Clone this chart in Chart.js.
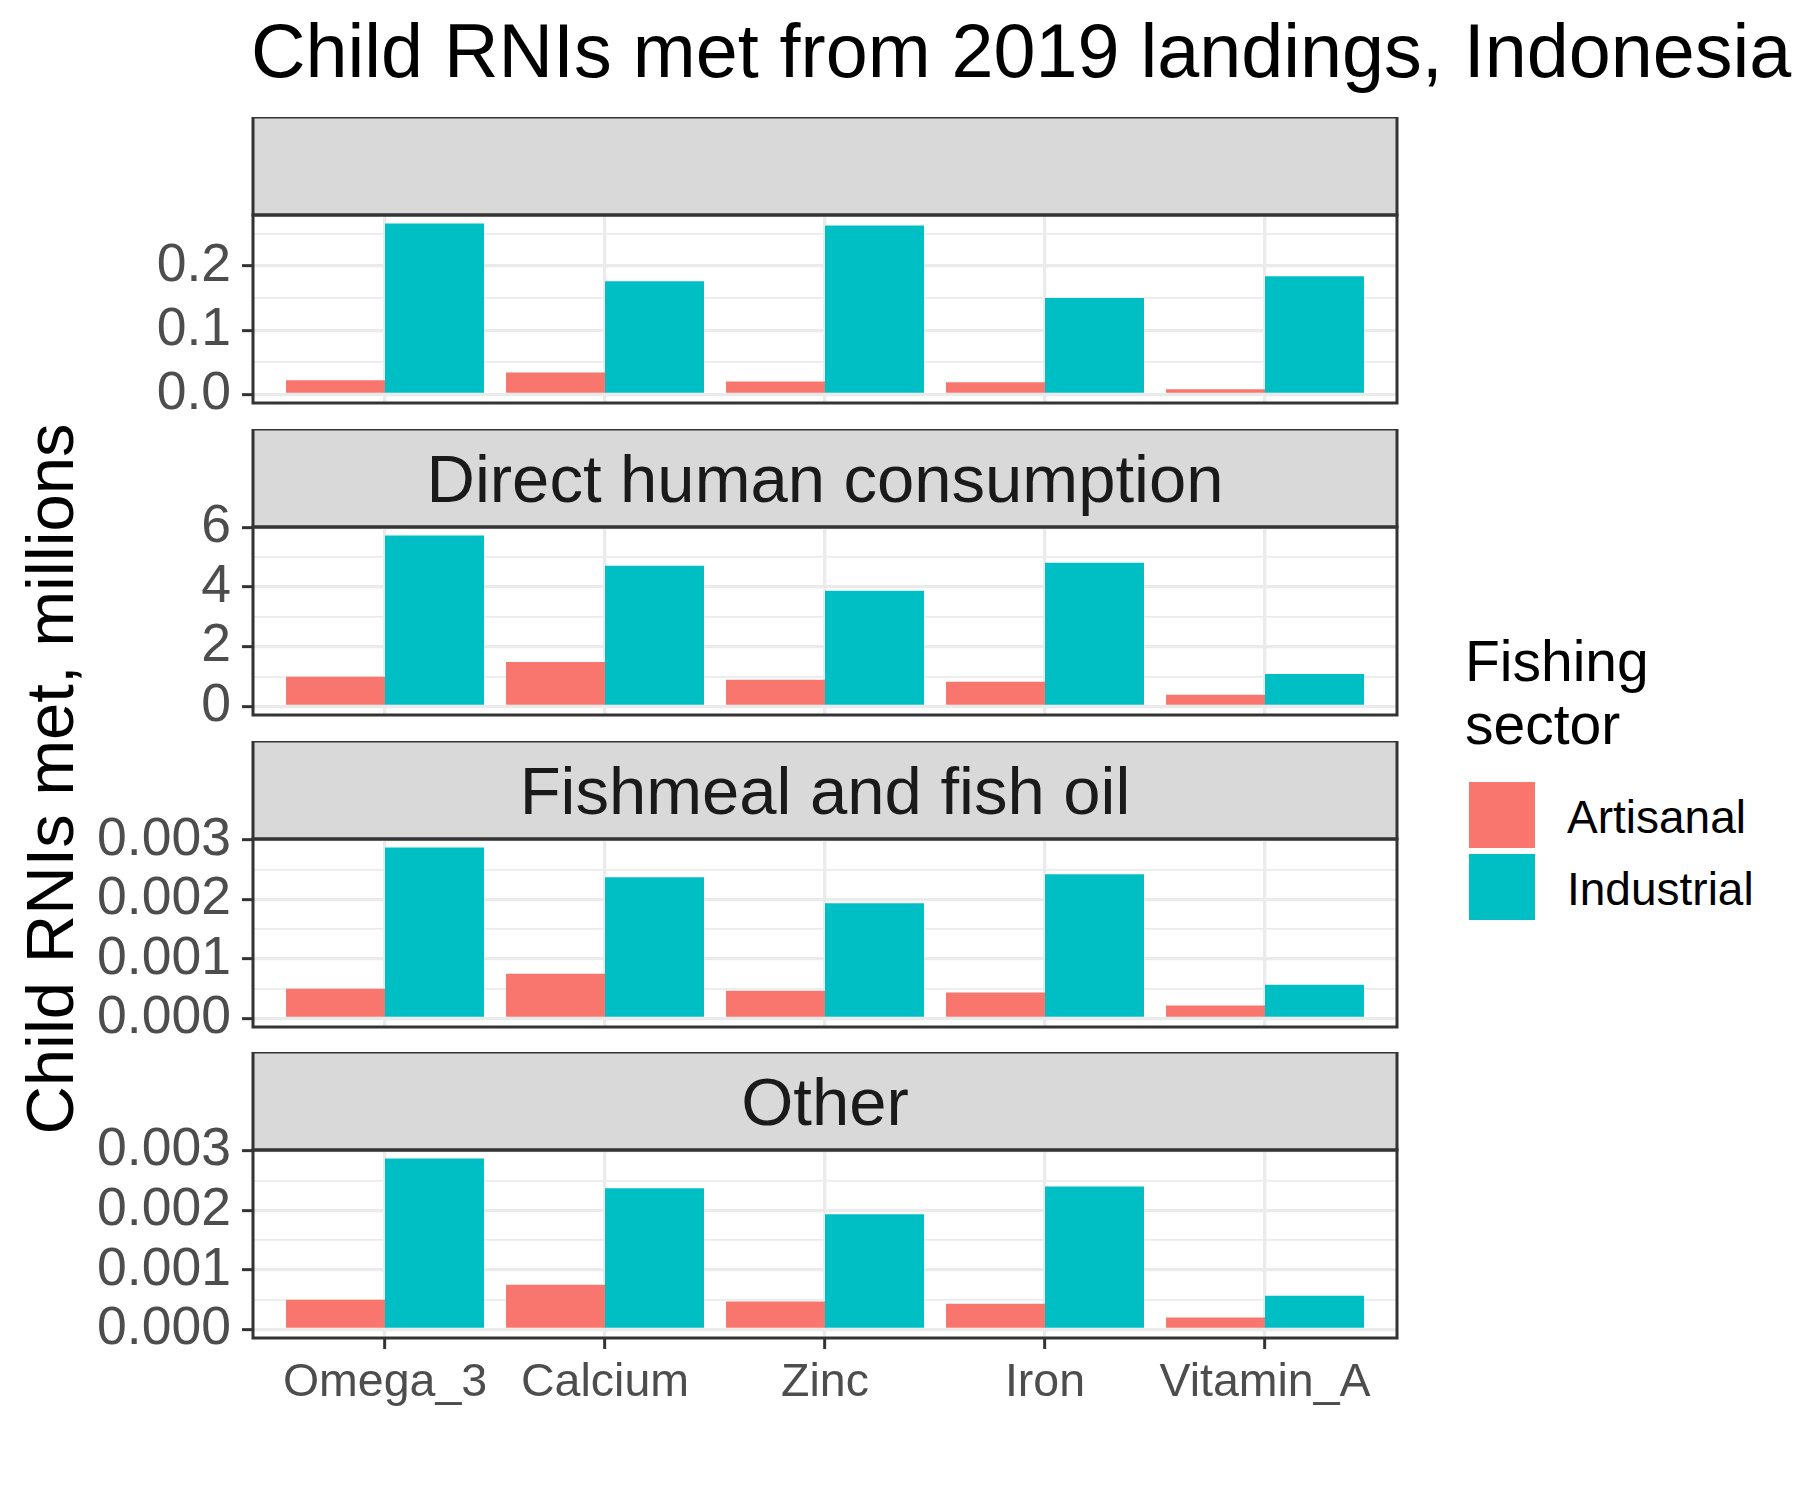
<!DOCTYPE html>
<html>
<head>
<meta charset="utf-8">
<script src="https://cdn.jsdelivr.net/npm/chart.js@4.4.1/dist/chart.umd.min.js"></script>
<style>
  html, body { margin: 0; padding: 0; background: #fff; }
  #page { position: relative; width: 1800px; height: 1500px; overflow: hidden;
          font-family: "Liberation Sans", Arial, sans-serif; }
  #page canvas { position: absolute; left: 0; }
  .txt { position: absolute; white-space: nowrap; line-height: 1; }
  #title { left: 251px; top: 14px; font-size: 75.5px; color: #000; }
  #ytitle { left: 49px; top: 779px; font-size: 67px; color: #000;
            transform: translate(-50%, -50%) rotate(-90deg); }
  #legendTitle { left: 1465px; top: 630px; font-size: 57px; line-height: 63.3px; color: #000; }
  .key { position: absolute; left: 1469px; width: 66px; height: 66px; }
  .keyLabel { left: 1567px; font-size: 46px; color: #000; }
</style>
</head>
<body>
<div id="page">
  <div class="txt" id="title">Child RNIs met from 2019 landings, Indonesia</div>
  <div class="txt" id="ytitle">Child RNIs met, millions</div>
  <div class="txt" id="legendTitle">Fishing<br>sector</div>
</div>
<script>
"use strict";

const nutrients = ["Omega_3", "Calcium", "Zinc", "Iron", "Vitamin_A"];
const sectors = ["Artisanal", "Industrial"];
const sectorColors = ["#F8766D", "#00BFC4"];
const facets = ["", "Direct human consumption", "Fishmeal and fish oil", "Other"];

// values per facet, same order as nutrients
const naArtisanal = [0.022, 0.034, 0.020, 0.019, 0.008];
const naIndustrial = [0.266, 0.176, 0.263, 0.150, 0.184];
const dhcArtisanal = [0.99, 1.49, 0.89, 0.83, 0.39];
const dhcIndustrial = [5.72, 4.71, 3.87, 4.81, 1.09];
const fishmealArtisanal = [0.000501, 0.000751, 0.000467, 0.000434, 0.000217];
const fishmealIndustrial = [0.002871, 0.002371, 0.001937, 0.002421, 0.000568];
const otherArtisanal = [0.0005, 0.00075, 0.000467, 0.000433, 0.0002];
const otherIndustrial = [0.002867, 0.002367, 0.001933, 0.0024, 0.000567];

// major y ticks and their labels per facet
const naTicks = [0, 0.1, 0.2];
const dhcTicks = [0, 2, 4, 6];
const fishmealTicks = [0, 0.001, 0.002, 0.003];
const otherTicks = [0, 0.001, 0.002, 0.003];
const naTickLabels = ["0.0", "0.1", "0.2"];
const dhcTickLabels = ["0", "2", "4", "6"];
const fishmealTickLabels = ["0.000", "0.001", "0.002", "0.003"];
const otherTickLabels = ["0.000", "0.001", "0.002", "0.003"];

const artisanal = [naArtisanal, dhcArtisanal, fishmealArtisanal, otherArtisanal];
const industrial = [naIndustrial, dhcIndustrial, fishmealIndustrial, otherIndustrial];
const yTicks = [naTicks, dhcTicks, fishmealTicks, otherTicks];
const yTickLabels = [naTickLabels, dhcTickLabels, fishmealTickLabels, otherTickLabels];

// layout
const FONT = '"Liberation Sans", Arial, sans-serif';
const CANVAS_W = 1420;
const PANEL_LEFT = 253;
const PANEL_RIGHT = 1397;
const STRIP_H = 98;
const PLOT_H = 188;
const panelTops = [117, 429, 741, 1052];

const page = document.getElementById("page");

// legend
sectors.forEach((s, k) => {
  const key = document.createElement("div");
  key.className = "key";
  key.style.top = 782 + k * 72 + "px";
  key.style.background = sectorColors[k];
  page.appendChild(key);
  const lab = document.createElement("div");
  lab.className = "txt keyLabel";
  lab.style.top = 794 + k * 72 + "px";
  lab.textContent = s;
  page.appendChild(lab);
});

const facetStrip = {
  id: "facetStrip",
  beforeDraw(chart) {
    const { ctx, chartArea: a } = chart;
    ctx.save();
    ctx.fillStyle = "#D9D9D9";
    ctx.fillRect(a.left, a.top - STRIP_H, a.right - a.left, STRIP_H);
    ctx.restore();
  },
  afterDraw(chart, args, opts) {
    const { ctx, chartArea: a } = chart;
    ctx.save();
    ctx.strokeStyle = "#333333";
    ctx.lineWidth = 3;
    ctx.strokeRect(a.left, a.top - STRIP_H, a.right - a.left, STRIP_H);
    ctx.strokeRect(a.left, a.top, a.right - a.left, a.bottom - a.top);
    if (opts.label) {
      ctx.fillStyle = "#1A1A1A";
      ctx.font = "67px " + FONT;
      ctx.textAlign = "center";
      ctx.textBaseline = "alphabetic";
      ctx.fillText(opts.label, (a.left + a.right) / 2, a.top - STRIP_H / 2 + 24);
    }
    ctx.restore();
  },
};

function makePanel(i) {
  const last = i === facets.length - 1;
  // room below the panel so the lowest y label does not shrink the plot area
  const bottomPad = last ? 0 : 50;
  const xAxisH = last ? 80 : 0;
  const h = STRIP_H + PLOT_H + bottomPad + xAxisH;

  const canvas = document.createElement("canvas");
  canvas.width = CANVAS_W;
  canvas.height = h;
  canvas.style.width = CANVAS_W + "px";
  canvas.style.height = h + "px";
  canvas.style.top = panelTops[i] + "px";
  page.appendChild(canvas);

  const art = artisanal[i];
  const ind = industrial[i];
  const maxVal = Math.max(...art, ...ind);
  const yMin = -0.05 * maxVal;
  const yMax = 1.05 * maxVal;

  const majors = yTicks[i];
  const step = majors[1] - majors[0];
  const eps = step * 1e-6;
  const tickObjs = [];
  majors.forEach((v, k) => tickObjs.push({ value: v, minor: false, text: yTickLabels[i][k] }));
  [majors[0] - step / 2, ...majors.map((v) => v + step / 2)].forEach((v) => {
    tickObjs.push({ value: v, minor: true, text: "" });
  });
  const yTickList = tickObjs
    .filter((t) => t.value >= yMin - eps && t.value <= yMax + eps)
    .sort((a, b) => a.value - b.value);

  new Chart(canvas, {
    type: "bar",
    data: {
      datasets: [
        {
          label: sectors[0],
          data: art.map((v, k) => ({ x: k + 1, y: v })),
          backgroundColor: sectorColors[0],
        },
        {
          label: sectors[1],
          data: ind.map((v, k) => ({ x: k + 1, y: v })),
          backgroundColor: sectorColors[1],
        },
      ],
    },
    options: {
      responsive: false,
      animation: false,
      devicePixelRatio: 1,
      barPercentage: 1,
      categoryPercentage: 0.9,
      layout: {
        padding: { top: STRIP_H, right: CANVAS_W - PANEL_RIGHT, bottom: bottomPad, left: 0 },
      },
      plugins: {
        legend: { display: false },
        tooltip: { enabled: false },
        facetStrip: { label: facets[i] },
      },
      scales: {
        x: {
          type: "linear",
          min: 0.4,
          max: nutrients.length + 0.6,
          offset: false,
          afterBuildTicks(axis) {
            axis.ticks = nutrients.map((n, k) => ({ value: k + 1 }));
          },
          afterFit(axis) {
            axis.height = xAxisH;
          },
          border: { display: false },
          grid: {
            color: "#EBEBEB",
            lineWidth: 3.3,
            offset: false,
            drawTicks: last,
            tickLength: 11,
            tickColor: "#333333",
            tickWidth: 3,
          },
          ticks: {
            display: last,
            autoSkip: false,
            maxRotation: 0,
            padding: 6,
            color: "#4D4D4D",
            font: { family: FONT, size: 46.5 },
            callback: (v) => nutrients[Math.round(v) - 1],
          },
        },
        y: {
          type: "linear",
          min: yMin,
          max: yMax,
          afterBuildTicks(axis) {
            axis.ticks = yTickList.map((t) => ({ ...t }));
          },
          afterFit(axis) {
            axis.width = PANEL_LEFT;
          },
          border: { display: false },
          grid: {
            color: "#EBEBEB",
            lineWidth: (c) => (c.tick && c.tick.minor ? 1.8 : 3.3),
            tickLength: 11,
            tickWidth: 3,
            tickColor: (c) => (c.tick && c.tick.minor ? "rgba(0,0,0,0)" : "#333333"),
          },
          ticks: {
            autoSkip: false,
            padding: 11,
            color: "#4D4D4D",
            font: { family: FONT, size: 53.5 },
            callback: (v, idx, ticks) => ticks[idx].text,
          },
        },
      },
    },
    plugins: [facetStrip],
  });
}

facets.forEach((f, i) => makePanel(i));
</script>
</body>
</html>
